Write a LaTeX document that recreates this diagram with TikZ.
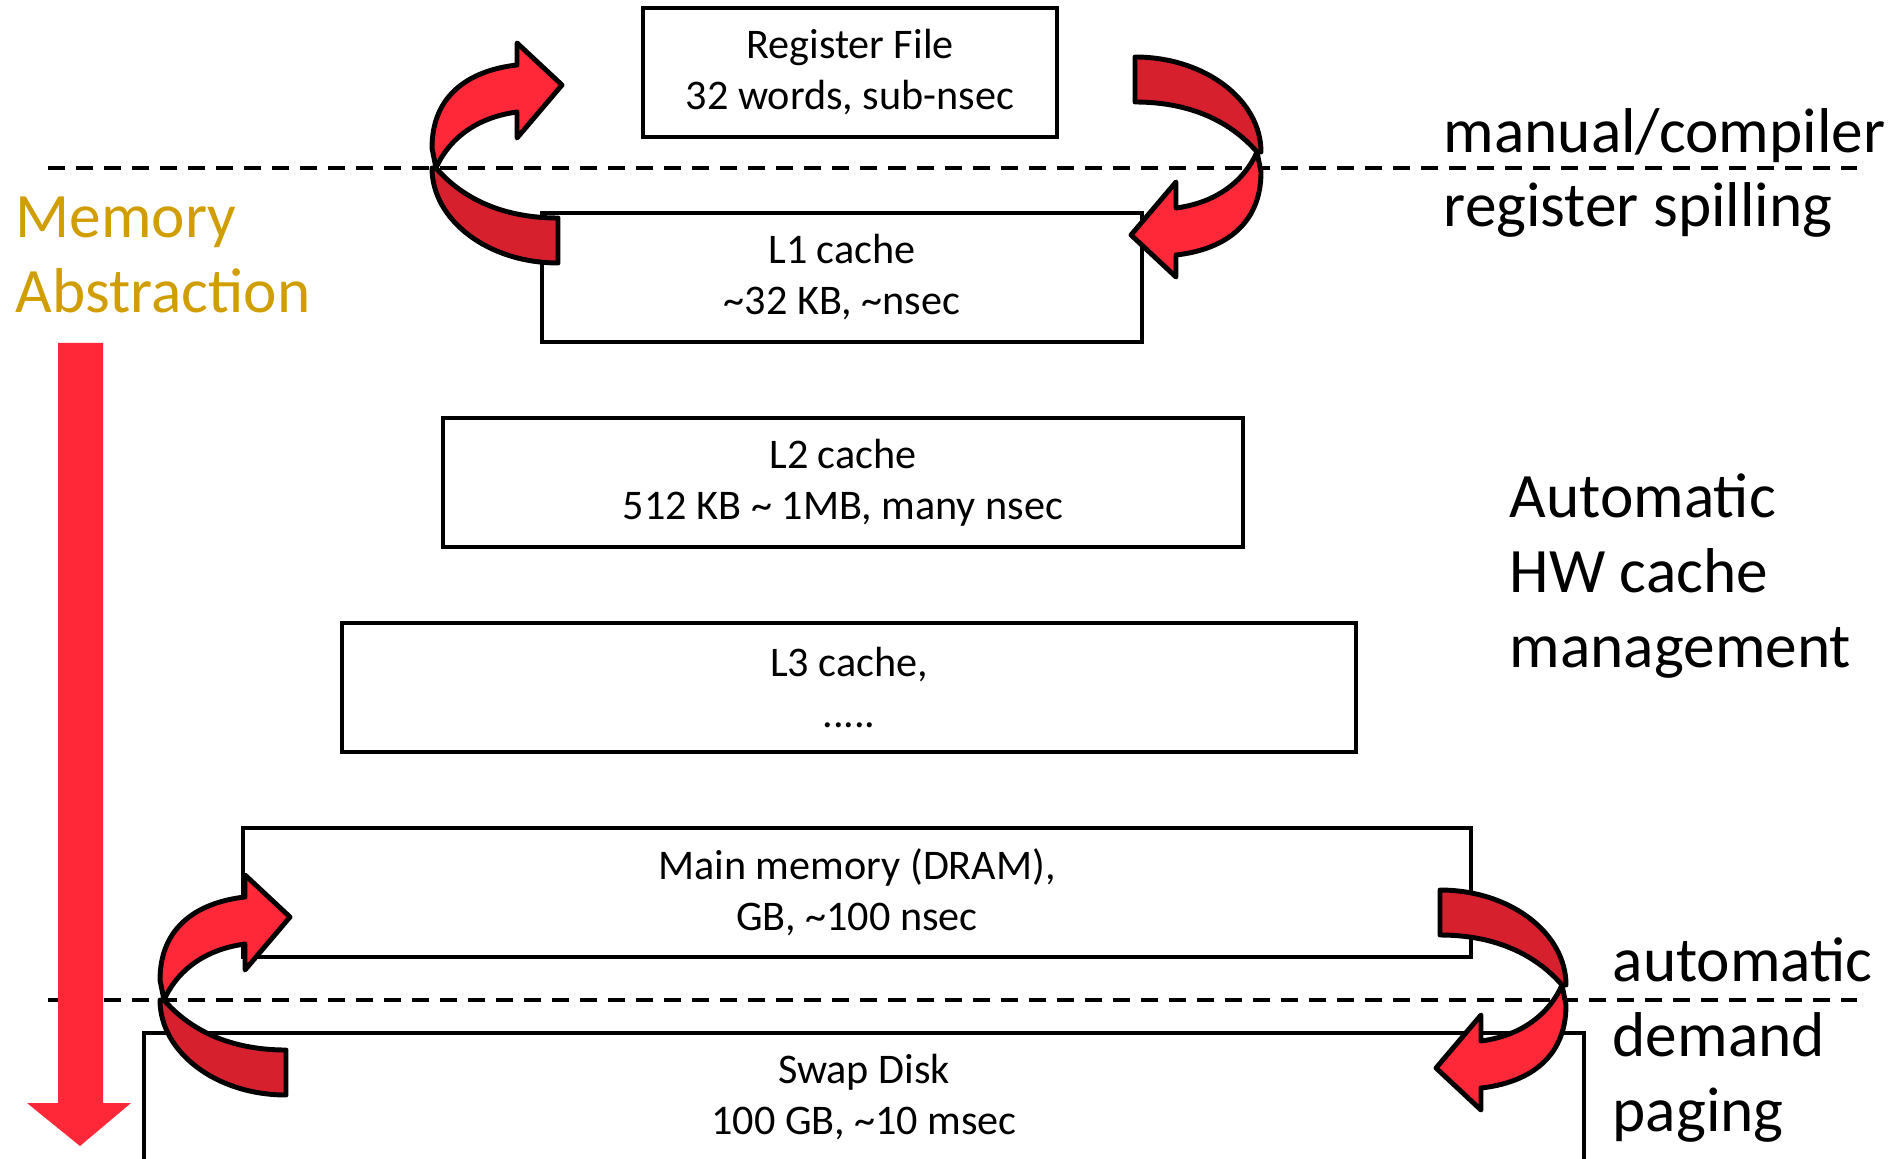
\documentclass[tikz,border=0pt]{standalone}
\usepackage{fontspec}
\setmainfont{Carlito}
\usetikzlibrary{positioning}

\definecolor{abstrgold}{RGB}{208,158,0}
\definecolor{frontred}{RGB}{255,40,56}
\definecolor{backred}{RGB}{214,32,46}

\tikzset{
  tier/.style={draw, line width=1.1pt, minimum height=1.29cm, align=center, inner sep=0pt,
    font=\fontsize{12}{14.5}\selectfont},
  note/.style={align=left, inner sep=0pt, anchor=west, font=\fontsize{18}{21.3}\selectfont},
  spill/.style={dash pattern=on 0.17cm off 0.11cm, line width=1.1pt},
  band/.style={draw=black, line width=1.4pt, line join=round},
  uturn/.pic={
    \path[band, fill=backred] (0,0) .. controls (0,52) and (56,95) .. (126,95) -- (126,50)
      .. controls (70,50) and (30,30) .. (4,0) -- cycle;
    \path[band, fill=frontred] (4,0) .. controls (15,-25) and (40,-50) .. (85,-56) -- (85,-30)
      -- (130,-83) -- (85,-125) -- (85,-103) .. controls (40,-98) and (0,-75) .. (0,-20) -- cycle;
  }
}

\begin{document}
\begin{tikzpicture}[x=0.01cm, y=-0.01cm, node distance=0.72cm]
    \useasboundingbox (0,0) rectangle (1901,1158);

    \node[tier, minimum width=4.14cm]  (rf)   at (850,72.5)   {Register File\\32 words, sub-nsec};
    \node[tier, minimum width=6.0cm]   (l1)   [below=of rf, xshift=-0.08cm]   {L1 cache\\\textasciitilde32 KB, \textasciitilde nsec};
    \node[tier, minimum width=8.0cm]   (l2)   [below=of l1, xshift=0.01cm]    {L2 cache\\512 KB \textasciitilde{} 1MB, many nsec};
    \node[tier, minimum width=10.13cm] (l3)   [below=of l2, xshift=0.06cm]    {L3 cache,\\.....};
    \node[tier, minimum width=12.27cm] (dram) [below=of l3, xshift=0.08cm]    {Main memory (DRAM),\\GB, \textasciitilde100 nsec};
    \node[tier, minimum width=14.39cm] (swap) [below=of dram, xshift=0.07cm]  {Swap Disk\\100 GB, \textasciitilde10 msec};

    \coordinate (spillW) at (48,168);
    \coordinate (spillE) at (1857,168);
    \coordinate (pageW)  at (48,1000);
    \coordinate (pageE)  at (1857,1000);
    \draw[spill] (spillW) -- (spillE);
    \draw[spill] (pageW) -- (pageE);

    \fill[frontred] (58,343) -- (103,343) -- (103,1103) -- (131,1103) -- (80,1146)
      -- (27,1103) -- (58,1103) -- cycle;

    \pic at (432,168) {uturn};
    \pic[rotate=180] at (1261,152) {uturn};
    \pic at (160,1000) {uturn};
    \pic[rotate=180] at (1566,985) {uturn};

    \node[note, text=abstrgold] (memabs)     at (15,255)   {Memory\\Abstraction};
    \node[note]                 (spilltext)  at (1443,173) {manual/compiler\\register spilling};
    \node[note]                 (hwtext)     at (1509,576) {Automatic\\HW cache\\management};
    \node[note]                 (pagingtext) at (1612,1040) {automatic\\demand\\paging};
\end{tikzpicture}
\end{document}
